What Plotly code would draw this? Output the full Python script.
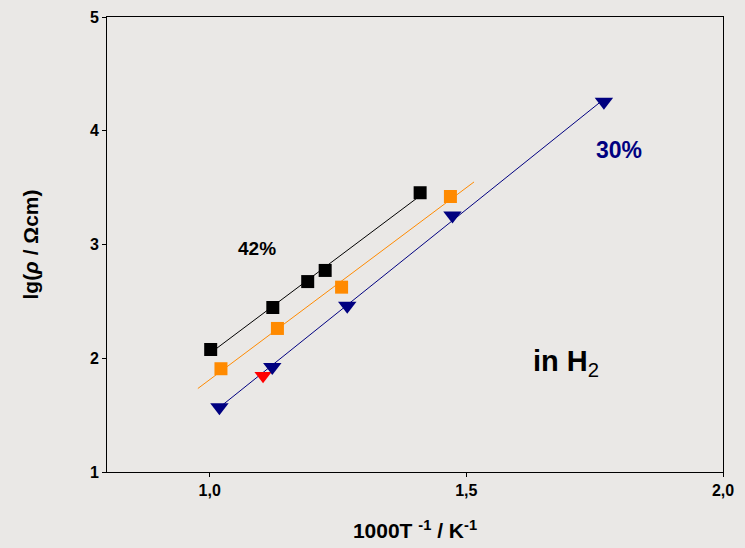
import numpy as np
import plotly.graph_objects as go

# 42 % sample (black squares)
x42 = [1.002, 1.123, 1.191, 1.225, 1.410]
y42 = [2.077, 2.446, 2.674, 2.772, 3.455]
fit42_x = [1.002, 1.410]

# intermediate sample (orange squares)
xor = [1.022, 1.132, 1.257, 1.469]
yor = [1.908, 2.262, 2.625, 3.422]
fitor_x = [0.977, 1.515]

# 30 % sample (navy triangles)
x30 = [1.019, 1.122, 1.268, 1.473, 1.768]
y30 = [1.569, 1.923, 2.462, 3.255, 4.255]
fit30_x = [1.019, 1.768]

# single red point
xred = [1.104]
yred = [1.846]

xticks = [1.0, 1.5, 2.0]
xticklabels = ["1,0", "1,5", "2,0"]
yticks = [1, 2, 3, 4, 5]

FONT = "Liberation Sans, Arial"
NAVY = "#000080"
ORANGE = "#ff8a00"
BG = "#eae8e6"

fig = go.Figure()

def fit_line(xs, ys, xr, color):
    k, b = np.polyfit(xs, ys, 1)
    xr = np.array(xr)
    fig.add_trace(go.Scatter(x=xr, y=k * xr + b, mode="lines",
                             line=dict(color=color, width=1), showlegend=False,
                             hoverinfo="skip"))

fit_line(x42, y42, fit42_x, "black")
fit_line(xor, yor, fitor_x, ORANGE)
fit_line(x30, y30, fit30_x, NAVY)

fig.add_trace(go.Scatter(x=x42, y=y42, mode="markers",
                         marker=dict(symbol="square", size=13, color="black"), showlegend=False))
fig.add_trace(go.Scatter(x=xor, y=yor, mode="markers",
                         marker=dict(symbol="square", size=13, color=ORANGE), showlegend=False))
fig.add_trace(go.Scatter(x=xred, y=yred, mode="markers",
                         marker=dict(symbol="triangle-down", size=15, color="#ff0000"), showlegend=False))
fig.add_trace(go.Scatter(x=x30, y=y30, mode="markers",
                         marker=dict(symbol="triangle-down", size=16, color=NAVY), showlegend=False))

fig.add_annotation(x=1.093, y=2.963, text="<b>42%</b>", showarrow=False,
                   font=dict(family=FONT, size=19, color="black"))
fig.add_annotation(x=1.797, y=3.83, text="<b>30%</b>", showarrow=False,
                   font=dict(family=FONT, size=23, color=NAVY))
fig.add_annotation(x=1.695, y=1.954, text="<b>in H</b><sub>2</sub>", showarrow=False,
                   font=dict(family=FONT, size=29, color="black"))

axis_common = dict(showgrid=False, zeroline=False, showline=True, linecolor="black",
                   linewidth=1, mirror=True, ticks="outside", ticklen=4,
                   tickcolor="black", automargin=False,
                   tickfont=dict(family=FONT, size=16, color="black"))

fig.update_xaxes(range=[0.8, 2.0], tickvals=xticks,
                 ticktext=[f"<b>{t}</b>" for t in xticklabels],
                 title=dict(text="<b>1000T <sup>-1</sup> / K<sup>-1</sup></b>",
                            font=dict(family=FONT, size=21, color="black"), standoff=25),
                 **axis_common)
fig.update_yaxes(range=[1, 5], tickvals=yticks,
                 ticktext=[f"<b>{t}</b>" for t in yticks],
                 title=dict(text="<b>lg(<i>ρ</i> / Ωcm)</b>",
                            font=dict(family=FONT, size=21, color="black"), standoff=45),
                 **axis_common)

fig.update_layout(width=745, height=548,
                  margin=dict(l=107, r=22, t=17, b=76),
                  paper_bgcolor=BG, plot_bgcolor="rgba(0,0,0,0)",
                  showlegend=False)

fig.write_html("out.html", config={"displayModeBar": False},
               post_script=f"document.body.style.margin='0';document.body.style.background='{BG}';")
